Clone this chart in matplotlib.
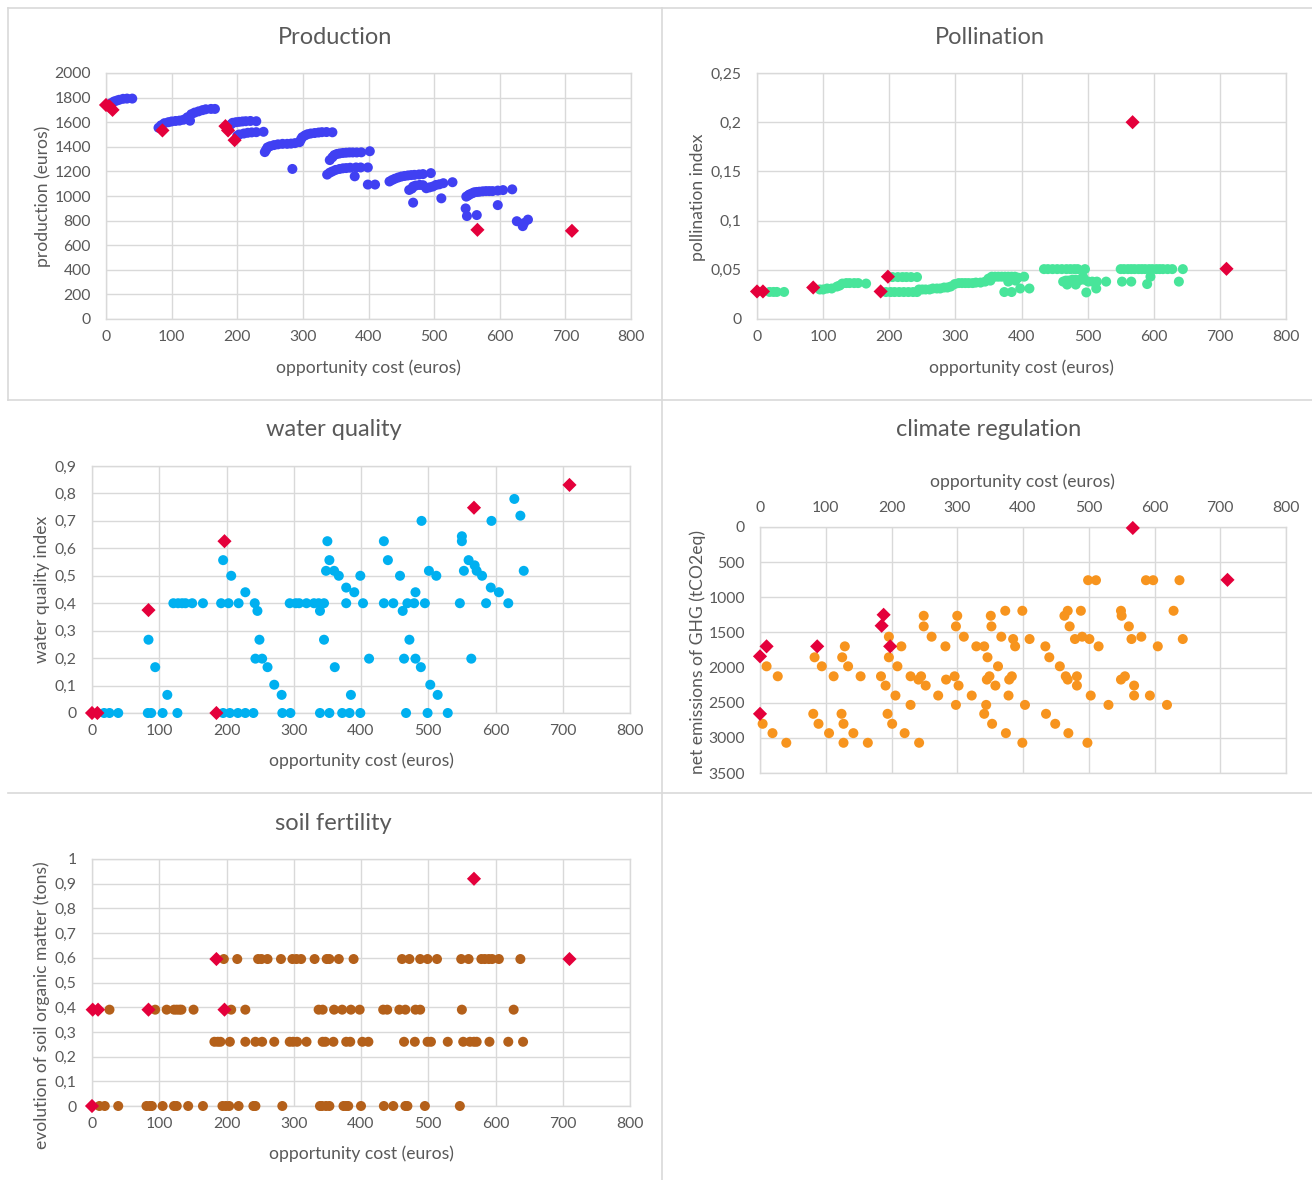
import matplotlib
matplotlib.use("Agg")
import matplotlib.pyplot as plt
from matplotlib.lines import Line2D

plt.rcParams['font.family'] = ['Lato', 'DejaVu Sans']

# ---------------- data ----------------
x_ticks = [0, 100, 200, 300, 400, 500, 600, 700, 800]
x_ticklabels = ["0", "100", "200", "300", "400", "500", "600", "700", "800"]

# Production
prod_x = [8, 12, 16, 20, 26, 32, 40,
          80, 84, 89, 95, 100, 106, 112, 118, 124, 128, 130, 135, 141, 147, 152, 160, 166,
          190, 193, 198, 203, 208, 213, 220, 229,
          200, 203, 210, 216, 222, 229, 240,
          242, 244, 246, 250, 256, 262, 269, 276, 282, 288, 295, 297, 299, 303, 307, 312, 318, 324, 329, 336, 345, 284,
          341, 345, 348, 352, 356, 361, 366, 371, 376, 382, 389, 402,
          337, 341, 345, 350, 356, 361, 366, 372, 379, 381, 388, 399, 399, 410,
          432, 436, 440, 445, 450, 455, 460, 465, 470, 477, 483, 495,
          462, 466, 468, 472, 478, 483, 488, 493, 498, 503, 508, 514, 528, 511, 468,
          549, 552, 554, 558, 561, 565, 569, 574, 579, 584, 589, 597, 605, 619, 548, 550, 565, 597,
          626, 635, 643, 637]
prod_y = [1755, 1768, 1775, 1782, 1790, 1792, 1792,
          1555, 1575, 1592, 1600, 1606, 1610, 1613, 1620, 1640, 1612, 1665, 1678, 1688, 1698, 1705, 1708, 1708,
          1580, 1595, 1600, 1603, 1606, 1608, 1610, 1608,
          1490, 1500, 1508, 1514, 1517, 1519, 1522,
          1357, 1375, 1395, 1405, 1414, 1420, 1424, 1424, 1426, 1430, 1438, 1460, 1478, 1492, 1502, 1508, 1512, 1516, 1519, 1520, 1518, 1220,
          1292, 1315, 1333, 1342, 1346, 1350, 1352, 1354, 1354, 1354, 1355, 1364,
          1174, 1190, 1200, 1212, 1220, 1225, 1227, 1230, 1160, 1232, 1232, 1232, 1093, 1093,
          1118, 1130, 1140, 1150, 1158, 1163, 1167, 1170, 1172, 1175, 1178, 1186,
          1049, 1060, 1077, 1085, 1090, 1088, 1063, 1070, 1077, 1090, 1095, 1104, 1112, 981, 946,
          995, 1005, 1013, 1022, 1030, 1033, 1035, 1038, 1040, 1040, 1040, 1044, 1048, 1054, 899, 837, 845, 926,
          795, 755, 808, 780]
prod_red_x = [0, 5, 10, 86, 182, 186, 196, 566, 710]
prod_red_y = [1740, 1730, 1700, 1533, 1568, 1533, 1454, 725, 717]
prod_yticks = [0, 200, 400, 600, 800, 1000, 1200, 1400, 1600, 1800, 2000]
prod_yticklabels = ["0", "200", "400", "600", "800", "1000", "1200", "1400", "1600", "1800", "2000"]

# Pollination
poll_x = [19, 25, 30, 41,
          95, 100, 106, 113, 121, 125, 129, 135, 140, 147, 153, 165,
          205, 213, 220, 226, 233, 242,
          195, 202, 208, 215, 222, 229, 236, 242,
          245, 250, 255, 261, 266, 272, 277, 283, 288, 293, 299, 305, 310, 315, 320, 326, 331, 338, 345,
          350, 355, 360, 365, 370, 375, 380, 385, 390, 395, 404, 353, 380, 391, 374, 385, 398, 412,
          434, 440, 447, 454, 461, 468, 474, 480, 485, 496,
          463, 467, 471, 477, 482, 486, 490, 495, 501, 507, 514, 528, 469, 482, 498, 513, 493,
          550, 555, 561, 566, 571, 577, 582, 587, 593, 598, 604, 609, 614, 621, 628, 644,
          552, 566, 590, 595, 638]
poll_y = [0.0275, 0.0275, 0.0275, 0.0275,
          0.030, 0.030, 0.031, 0.031, 0.033, 0.034, 0.036, 0.0365, 0.0365, 0.0365, 0.0365, 0.036,
          0.0426, 0.0426, 0.0426, 0.0426, 0.0426, 0.0426,
          0.0274, 0.0274, 0.0274, 0.0274, 0.0274, 0.0274, 0.0274, 0.0274,
          0.030, 0.030, 0.030, 0.030, 0.031, 0.031, 0.031, 0.032, 0.032, 0.033, 0.0355, 0.0365, 0.0365, 0.0365, 0.0365, 0.0365, 0.037, 0.037, 0.038,
          0.041, 0.043, 0.043, 0.043, 0.043, 0.043, 0.043, 0.043, 0.043, 0.042, 0.043, 0.039, 0.038, 0.039, 0.0274, 0.0274, 0.031, 0.031,
          0.0507, 0.0507, 0.0507, 0.0507, 0.0507, 0.0507, 0.0507, 0.0507, 0.0507, 0.0507,
          0.038, 0.039, 0.039, 0.040, 0.040, 0.039, 0.040, 0.040, 0.038, 0.038, 0.038, 0.038, 0.035, 0.035, 0.027, 0.031, 0.043,
          0.0507, 0.0507, 0.0507, 0.0507, 0.0507, 0.0507, 0.0507, 0.0507, 0.0507, 0.0507, 0.0507, 0.0507, 0.0507, 0.0507, 0.0507, 0.0507,
          0.038, 0.038, 0.0355, 0.043, 0.038]
poll_red_x = [0, 9, 85, 187, 198, 568, 710]
poll_red_y = [0.028, 0.028, 0.032, 0.028, 0.043, 0.200, 0.051]
poll_yticks = [0, 0.05, 0.1, 0.15, 0.2, 0.25]
poll_yticklabels = ["0", "0,05", "0,1", "0,15", "0,2", "0,25"]

# Water quality
water_x = [18, 26, 39, 83, 88, 105, 127, 195, 205, 217, 228, 240, 283, 295, 339, 353, 372, 383, 399, 467, 499, 529,
           84, 94, 112, 121, 128, 134, 139, 149, 165,
           195, 192, 203, 207, 218, 228, 242, 246, 249, 243, 253, 261, 271, 282,
           294, 303, 308, 319, 330, 337, 339, 345, 345, 348, 350, 353, 360, 367, 361, 378, 378, 390, 399, 403, 412, 385,
           434, 434, 440, 448, 458, 462, 464, 469, 472, 479, 481, 481, 489, 490, 495, 501, 503, 512, 514,
           547, 550, 550, 553, 560, 564, 569, 572, 580, 586, 593, 594, 605, 619, 628, 637, 642]
water_y = [0, 0, 0, 0, 0, 0, 0, 0, 0, 0, 0, 0, 0, 0, 0, 0, 0, 0, 0, 0, 0, 0,
           0.267, 0.167, 0.066, 0.4, 0.4, 0.4, 0.4, 0.4, 0.4,
           0.557, 0.4, 0.4, 0.5, 0.4, 0.44, 0.4, 0.372, 0.267, 0.198, 0.198, 0.167, 0.103, 0.066,
           0.4, 0.4, 0.4, 0.4, 0.4, 0.4, 0.372, 0.4, 0.267, 0.518, 0.626, 0.557, 0.518, 0.5, 0.167, 0.457, 0.4, 0.44, 0.5, 0.4, 0.198, 0.066,
           0.626, 0.4, 0.557, 0.4, 0.5, 0.372, 0.198, 0.4, 0.267, 0.4, 0.44, 0.198, 0.167, 0.7, 0.4, 0.518, 0.103, 0.5, 0.066,
           0.4, 0.626, 0.644, 0.518, 0.557, 0.198, 0.538, 0.518, 0.5, 0.4, 0.457, 0.7, 0.44, 0.4, 0.78, 0.719, 0.518]
water_red_x = [0, 8, 84, 185, 197, 568, 710]
water_red_y = [0, 0, 0.375, 0, 0.626, 0.748, 0.831]
water_yticks = [0, 0.1, 0.2, 0.3, 0.4, 0.5, 0.6, 0.7, 0.8, 0.9]
water_yticklabels = ["0", "0,1", "0,2", "0,3", "0,4", "0,5", "0,6", "0,7", "0,8", "0,9"]

# Climate regulation
clim_x = [10, 27, 4, 19, 40,
          83, 94, 112, 81, 89, 105, 129, 125, 134, 153, 124, 127, 127, 142, 164,
          184, 191, 196, 196, 209, 215, 206, 194, 201, 220, 242,
          229, 229, 245, 241, 249, 249, 252, 261, 271, 282, 283, 296, 298, 300, 298, 302, 310, 322, 329,
          341, 341, 345, 349, 344, 346, 351, 352, 353, 358, 362, 367, 373, 378, 379, 383, 385, 388, 374, 399, 399, 403, 410,
          434, 435, 440, 449, 456, 463, 465, 468, 468, 471, 469, 482, 482, 479, 488, 490, 498, 501, 503, 515, 499, 511, 530,
          549, 550, 549, 555, 561, 565, 569, 569, 580, 587, 598, 593, 605, 619, 629, 638, 643]
clim_y = [1982, 2124, 2800, 2933, 3070,
          1854, 1982, 2124, 2658, 2800, 2933, 1698, 1854, 1982, 2124, 2658, 2800, 3070, 2933, 3070,
          2124, 2256, 1561, 1854, 1982, 1698, 2398, 2658, 2800, 2933, 3070,
          2531, 2124, 2124, 2171, 1263, 1414, 2256, 1561, 2398, 1698, 2171, 2124, 2531, 1263, 1414, 2256, 1561, 2398, 1698,
          1698, 2658, 2171, 2124, 2531, 1854, 1263, 1414, 2800, 2256, 1982, 1561, 1192, 2398, 2171, 2124, 1594, 1698, 2933, 3070, 1192, 2531, 1594,
          1698, 2658, 1854, 2800, 1982, 1263, 2124, 2171, 1192, 1414, 2933, 2124, 2256, 1594, 1192, 1561, 3070, 1594, 2398, 1698, 757, 757, 2531,
          1192, 1263, 2171, 2124, 1414, 1594, 2256, 2398, 1561, 757, 757, 2398, 1698, 2531, 1192, 757, 1594]
clim_red_x = [567, 711, 188, 185, 10, 87, 198, 0, 0]
clim_red_y = [14, 752, 1249, 1405, 1698, 1698, 1698, 1840, 2658]
clim_yticks = [0, 500, 1000, 1500, 2000, 2500, 3000, 3500]
clim_yticklabels = ["0", "500", "1000", "1500", "2000", "2500", "3000", "3500"]

# Soil fertility
soil_x = [196, 216, 247, 252, 261, 281, 298, 304, 311, 331, 349, 353, 367, 389,
          461, 472, 488, 499, 513, 549, 560, 579, 584, 590, 595, 605, 637,
          26, 94, 111, 122, 126, 130, 133, 151, 207, 228, 337, 343, 360, 372, 385, 398,
          433, 439, 457, 466, 481, 488, 550, 627,
          182, 187, 191, 205, 228, 243, 253, 271, 294, 299, 305, 319, 343, 347, 359, 378, 384, 402, 411,
          464, 480, 499, 504, 529, 552, 562, 568, 572, 591, 619, 641,
          11, 19, 39, 81, 86, 89, 105, 122, 126, 143, 165, 194, 199, 204, 218, 240, 243, 283,
          339, 342, 348, 353, 374, 378, 381, 400, 434, 448, 466, 469, 495, 547]
soil_y = [0.595, 0.595, 0.595, 0.595, 0.595, 0.595, 0.595, 0.595, 0.595, 0.595, 0.595, 0.595, 0.595, 0.595,
          0.595, 0.595, 0.595, 0.595, 0.595, 0.595, 0.595, 0.595, 0.595, 0.595, 0.595, 0.595, 0.595,
          0.39, 0.39, 0.39, 0.39, 0.39, 0.39, 0.39, 0.39, 0.39, 0.39, 0.39, 0.39, 0.39, 0.39, 0.39, 0.39,
          0.39, 0.39, 0.39, 0.39, 0.39, 0.39, 0.39, 0.39,
          0.26, 0.26, 0.26, 0.26, 0.26, 0.26, 0.26, 0.26, 0.26, 0.26, 0.26, 0.26, 0.26, 0.26, 0.26, 0.26, 0.26, 0.26, 0.26,
          0.26, 0.26, 0.26, 0.26, 0.26, 0.26, 0.26, 0.26, 0.26, 0.26, 0.26, 0.26,
          0, 0, 0, 0, 0, 0, 0, 0, 0, 0, 0, 0, 0, 0, 0, 0, 0, 0,
          0, 0, 0, 0, 0, 0, 0, 0, 0, 0, 0, 0, 0, 0]
soil_red_x = [0, 1, 9, 84, 185, 197, 568, 710]
soil_red_y = [0, 0.39, 0.39, 0.39, 0.595, 0.39, 0.92, 0.595]
soil_yticks = [0, 0.1, 0.2, 0.3, 0.4, 0.5, 0.6, 0.7, 0.8, 0.9, 1]
soil_yticklabels = ["0", "0,1", "0,2", "0,3", "0,4", "0,5", "0,6", "0,7", "0,8", "0,9", "1"]

# ---------------- styling ----------------
W, H = 1312, 1180
TXT = '#595959'
GRID = '#D9D9D9'
RED = '#E4003B'
DOT_S = 52
DIA_S = 52
TITLE_FS = 17
LABEL_FS = 12.6
TICK_FS = 11.3

fig = plt.figure(figsize=(W / 100, H / 100), dpi=100)
fig.patch.set_facecolor('white')


def px_axes(left, top, right, bottom):
    return fig.add_axes([left / W, 1 - bottom / H, (right - left) / W, (bottom - top) / H])


def style(ax, yticks, yticklabels, ylim, top_x=False):
    ax.set_xlim(0, 800)
    ax.set_xticks(x_ticks)
    ax.set_xticklabels(x_ticklabels)
    ax.set_yticks(yticks)
    ax.set_yticklabels(yticklabels)
    ax.set_ylim(*ylim)
    ax.grid(True, color=GRID, linewidth=1.0)
    ax.set_axisbelow(True)
    for s in ax.spines.values():
        s.set_color(GRID)
        s.set_linewidth(1.0)
    ax.tick_params(length=0, labelsize=TICK_FS, colors=TXT, pad=8)
    ax.tick_params(axis='y', pad=11)
    if top_x:
        ax.xaxis.tick_top()
        ax.tick_params(axis='x', pad=9)


def ftext(x, y, s, **kw):
    fig.text(x / W, 1 - y / H, s, color=TXT, ha='center', va='center', **kw)


# Panel borders
for (x0, y0, x1, y1) in [(8, 8, 1312, 8), (8, 8, 8, 400), (662, 8, 662, 1180),
                         (8, 400, 1312, 400), (8, 793, 1312, 793)]:
    fig.add_artist(Line2D([x0 / W, x1 / W], [1 - y0 / H, 1 - y1 / H], color=GRID, lw=1.2))

# Production
ax1 = px_axes(106, 73, 631, 319)
ax1.scatter(prod_x, prod_y, s=DOT_S, color='#4040F2', edgecolors='none', zorder=3)
ax1.scatter(prod_red_x, prod_red_y, s=DIA_S, marker='D', color=RED, edgecolors='none', zorder=4)
style(ax1, prod_yticks, prod_yticklabels, (0, 2000))
ftext(335, 37, "Production", fontsize=TITLE_FS)
ftext(368, 368, "opportunity cost (euros)", fontsize=LABEL_FS)
ftext(43, 196, "production (euros)", fontsize=LABEL_FS, rotation=90)

# Pollination
ax2 = px_axes(757, 73, 1286, 319)
ax2.scatter(poll_x, poll_y, s=DOT_S, color='#48E59A', edgecolors='none', zorder=3)
ax2.scatter(poll_red_x, poll_red_y, s=DIA_S, marker='D', color=RED, edgecolors='none', zorder=4)
style(ax2, poll_yticks, poll_yticklabels, (0, 0.25))
ftext(990, 37, "Pollination", fontsize=TITLE_FS)
ftext(1021, 368, "opportunity cost (euros)", fontsize=LABEL_FS)
ftext(698, 197, "pollination index", fontsize=LABEL_FS, rotation=90)

# Water quality
ax3 = px_axes(92, 466, 630, 713)
ax3.scatter(water_x, water_y, s=DOT_S, color='#00B0F0', edgecolors='none', zorder=3)
ax3.scatter(water_red_x, water_red_y, s=DIA_S, marker='D', color=RED, edgecolors='none', zorder=4)
style(ax3, water_yticks, water_yticklabels, (0, 0.9))
ftext(334, 430, "water quality", fontsize=TITLE_FS)
ftext(361, 761, "opportunity cost (euros)", fontsize=LABEL_FS)
ftext(42, 589, "water quality index", fontsize=LABEL_FS, rotation=90)

# Climate regulation
ax4 = px_axes(760, 527, 1286, 773)
ax4.scatter(clim_x, clim_y, s=DOT_S, color='#F7941E', edgecolors='none', zorder=3)
ax4.scatter(clim_red_x, clim_red_y, s=DIA_S, marker='D', color=RED, edgecolors='none', zorder=4)
style(ax4, clim_yticks, clim_yticklabels, (3500, 0), top_x=True)
ftext(989, 430, "climate regulation", fontsize=TITLE_FS)
ftext(1022, 482, "opportunity cost (euros)", fontsize=LABEL_FS)
ftext(698, 652, "net emissions of GHG (tCO2eq)", fontsize=LABEL_FS, rotation=90)

# Soil fertility
ax5 = px_axes(92, 859, 630, 1106)
ax5.scatter(soil_x, soil_y, s=DOT_S, color='#B4601A', edgecolors='none', zorder=3)
ax5.scatter(soil_red_x, soil_red_y, s=DIA_S, marker='D', color=RED, edgecolors='none', zorder=4)
style(ax5, soil_yticks, soil_yticklabels, (0, 1))
ftext(333, 823, "soil fertility", fontsize=TITLE_FS)
ftext(361, 1154, "opportunity cost (euros)", fontsize=LABEL_FS)
ftext(42, 1005, "evolution of soil organic matter (tons)", fontsize=LABEL_FS, rotation=90)

for ax in (ax1, ax2, ax3, ax4, ax5):
    for sc in ax.collections:
        sc.set_clip_on(False)

fig.savefig("out.png", dpi=100, facecolor='white')
